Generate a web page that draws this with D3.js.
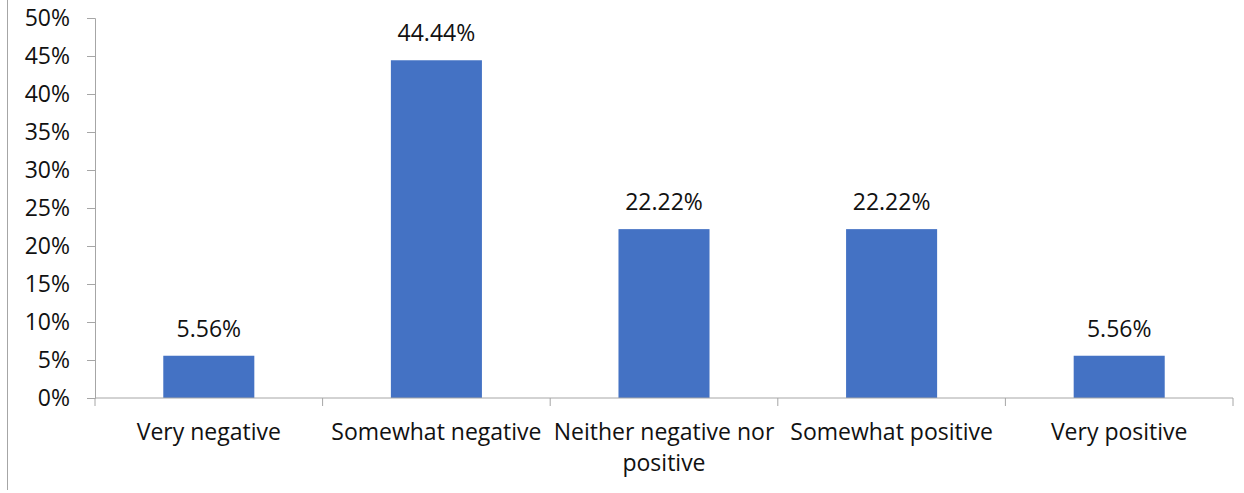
<!DOCTYPE html>
<html>
<head>
<meta charset="utf-8">
<script src="https://cdn.jsdelivr.net/npm/d3@7"></script>
<style>
  html, body { margin: 0; padding: 0; background: #fff; }
  svg { display: block; font-family: "Open Sans", sans-serif; }
</style>
</head>
<body>
<svg id="chart" width="1244" height="493"></svg>
<script>
// Share of responses per sentiment category (percent)
const categories = ["Very negative", "Somewhat negative", "Neither negative nor positive", "Somewhat positive", "Very positive"];
const categoryLines = [["Very negative"], ["Somewhat negative"], ["Neither negative nor", "positive"], ["Somewhat positive"], ["Very positive"]];
const values = [5.56, 44.44, 22.22, 22.22, 5.56];
const yTicks = [0, 5, 10, 15, 20, 25, 30, 35, 40, 45, 50];

const svg = d3.select("#chart");
const margin = { left: 95, right: 11, top: 18, bottom: 95 };
const W = 1244, H = 493;
const axisColor = "#a6a6a6";
const textColor = "#111";
const fontSize = 23;

// outer frame line on the left
svg.append("line")
  .attr("x1", 7.5).attr("x2", 7.5).attr("y1", 0).attr("y2", 490)
  .attr("stroke", axisColor).attr("stroke-width", 1);

const x = d3.scaleBand()
  .domain(categories)
  .range([margin.left, W - margin.right])
  .padding(0);

const y = d3.scaleLinear()
  .domain([0, 50])
  .range([H - margin.bottom, margin.top]);

// y axis
const yAxis = svg.append("g")
  .attr("transform", `translate(${margin.left},0)`)
  .call(d3.axisLeft(y).tickValues(yTicks).tickFormat(d => d + "%").tickSize(8).tickPadding(17));
yAxis.selectAll("path, line").attr("stroke", axisColor);
yAxis.selectAll("text").attr("font-size", fontSize).attr("fill", textColor).attr("font-family", "Open Sans");

// bars
const barW = x.bandwidth() * 0.4;
svg.append("g").selectAll("rect")
  .data(values)
  .join("rect")
  .attr("x", (d, i) => x(categories[i]) + (x.bandwidth() - barW) / 2)
  .attr("y", d => y(d))
  .attr("width", barW)
  .attr("height", d => y(0) - y(d))
  .attr("fill", "#4472c4");

// value labels
svg.append("g").selectAll("text")
  .data(values)
  .join("text")
  .attr("x", (d, i) => x(categories[i]) + x.bandwidth() / 2)
  .attr("y", d => y(d) - 19)
  .attr("text-anchor", "middle")
  .attr("font-size", fontSize)
  .attr("fill", textColor)
  .text(d => d.toFixed(2) + "%");

// x axis with ticks at category boundaries
const x0 = H - margin.bottom;
const xAxisG = svg.append("g");
xAxisG.append("line")
  .attr("x1", margin.left).attr("x2", W - margin.right)
  .attr("y1", x0).attr("y2", x0)
  .attr("stroke", axisColor);
const bounds = categories.map(c => x(c)).concat([x.range()[1]]);
xAxisG.selectAll("line.tick")
  .data(bounds)
  .join("line")
  .attr("class", "tick")
  .attr("x1", d => d).attr("x2", d => d)
  .attr("y1", x0).attr("y2", x0 + 8)
  .attr("stroke", axisColor);

// category labels
const labels = svg.append("g").selectAll("text")
  .data(categories)
  .join("text")
  .attr("text-anchor", "middle")
  .attr("font-size", fontSize)
  .attr("fill", textColor);
labels.each(function(c, i) {
  const t = d3.select(this);
  categoryLines[i].forEach((line, j) => {
    t.append("tspan")
      .attr("x", x(c) + x.bandwidth() / 2)
      .attr("y", x0 + 42 + j * 31)
      .text(line);
  });
});
</script>
</body>
</html>
